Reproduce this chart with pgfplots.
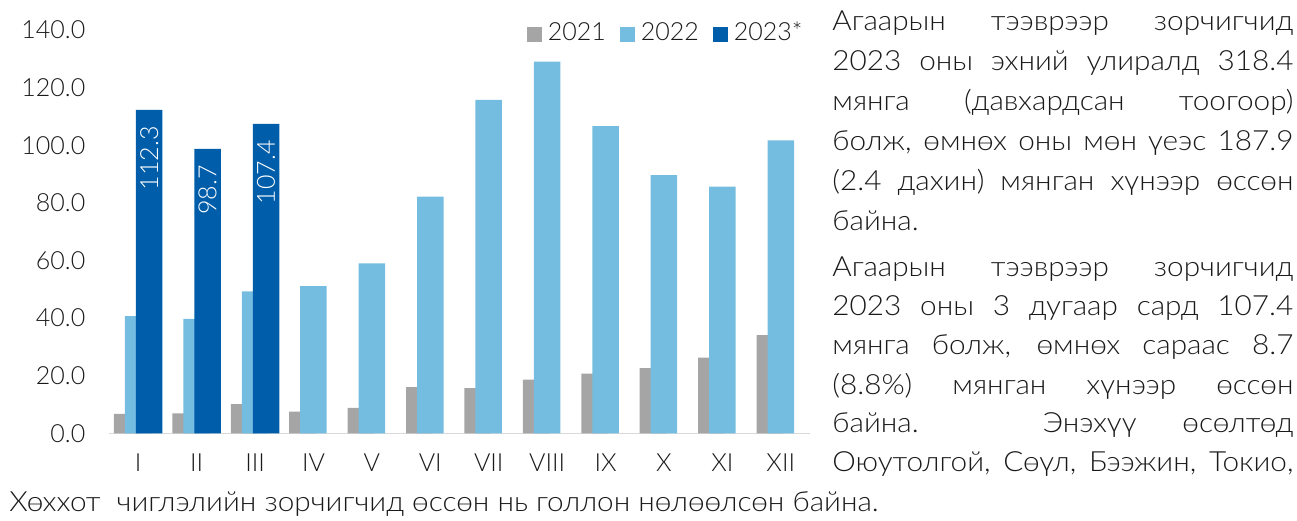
\documentclass[border=0pt]{standalone}
\usepackage{fontspec}
\setmainfont{Lato Light}
\newfontfamily\bodyfont{Lato Light}[FakeStretch=1.07]
\usepackage{pgfplots}
\pgfplotsset{compat=1.18}
\definecolor{c21}{HTML}{A5A5A5}
\definecolor{c22}{HTML}{75BDE0}
\definecolor{c23}{HTML}{005DAA}
\definecolor{axisgray}{HTML}{D9D9D9}
\definecolor{txt}{HTML}{1A1A1A}
\newcommand\fs{\fontsize{12.5pt}{15pt}\selectfont}
\newcommand\bs{\bodyfont\fontsize{13.9pt}{20pt}\selectfont}
\newcommand\jl[2]{\node[anchor=base west, inner sep=0pt, font=\bs, text=txt] at (416pt,#1pt) {\makebox[230.5pt][s]{#2}};}
\newcommand\pl[2]{\node[anchor=base west, inner sep=0pt, font=\bs, text=txt] at (416pt,#1pt) {#2};}
\begin{document}
\begin{tikzpicture}
\useasboundingbox (0,0) rectangle (648.5pt,260pt);
\begin{axis}[
  at={(54.5pt,43.35pt)}, anchor=south west,
  scale only axis, width=350.5pt, height=201.65pt,
  xmin=-0.5, xmax=11.5, ymin=0, ymax=140,
  ybar, bar width=13.25pt,
  axis x line*=bottom, axis y line*=left,
  y axis line style={draw=none},
  x axis line style={draw=axisgray, line width=0.75pt},
  xtick={0,...,11},
  xticklabels={I,II,III,IV,V,VI,VII,VIII,IX,X,XI,XII},
  ytick={0,20,...,140},
  major tick length=0pt, tick style={draw=none},
  /pgf/number format/assume math mode=true,
  yticklabel style={/pgf/number format/fixed, /pgf/number format/fixed zerofill, /pgf/number format/precision=1, xshift=-8.3pt},
  xticklabel style={yshift=-6.8pt},
  tick label style={font=\fs, text=txt},
  legend columns=3,
  legend style={at={(rel axis cs:1,1)}, anchor=east, xshift=-3.5pt, yshift=-1.5pt,
    draw=none, fill=none, inner sep=0pt, font=\fs, text=txt, nodes={inner sep=0pt},
    /tikz/every odd column/.append style={column sep=3pt},
    /tikz/every even column/.append style={column sep=7pt}},
  legend image code/.code={\fill[#1] (0pt,-4.6pt) rectangle (7.5pt,2.9pt);},
  clip=false,
]
\addplot[fill=c21, draw=none, bar shift=-5.5pt] coordinates {
  (0,6.7) (1,6.9) (2,10.1) (3,7.5) (4,8.8) (5,16.0) (6,15.7) (7,18.6) (8,20.7) (9,22.6) (10,26.3) (11,34.1)};
\addplot[fill=c22, draw=none, bar shift=0pt] coordinates {
  (0,40.7) (1,39.7) (2,49.3) (3,51.1) (4,59.0) (5,82.2) (6,115.7) (7,129.0) (8,106.6) (9,89.6) (10,85.6) (11,101.7)};
\addplot[fill=c23, draw=none, bar shift=5.5pt,
  nodes near coords={\pgfmathprintnumber[fixed,fixed zerofill,precision=1]{\pgfplotspointmeta}},
  every node near coord/.append style={rotate=90, anchor=east, inner xsep=8pt, inner ysep=0pt, font=\fs, text=white}] coordinates {
  (0,112.3) (1,98.7) (2,107.4)};
\legend{2021,2022,2023*}
\end{axis}
\jl{244.5}{Агаарын тээврээр зорчигчид}
\jl{224.5}{2023 оны эхний улиралд 318.4}
\jl{204.5}{мянга (давхардсан тоогоор)}
\jl{184.5}{болж, өмнөх оны мөн үеэс 187.9}
\jl{164.5}{(2.4 дахин) мянган хүнээр өссөн}
\pl{144.5}{байна.}
\jl{121.5}{Агаарын тээврээр зорчигчид}
\jl{102}{2023 оны 3 дугаар сард 107.4}
\jl{82.5}{мянга болж, өмнөх сараас 8.7}
\jl{63}{(8.8\%) мянган хүнээр өссөн}
\jl{43.5}{байна. Энэхүү өсөлтөд}
\jl{24}{Оюутолгой, Сөүл, Бээжин, Токио,}
\node[anchor=base west, inner sep=0pt, font=\bs, text=txt] at (4.5pt,4.5pt) {Хөххот\ \ чиглэлийн зорчигчид өссөн нь голлон нөлөөлсөн байна.};
\end{tikzpicture}
\end{document}
